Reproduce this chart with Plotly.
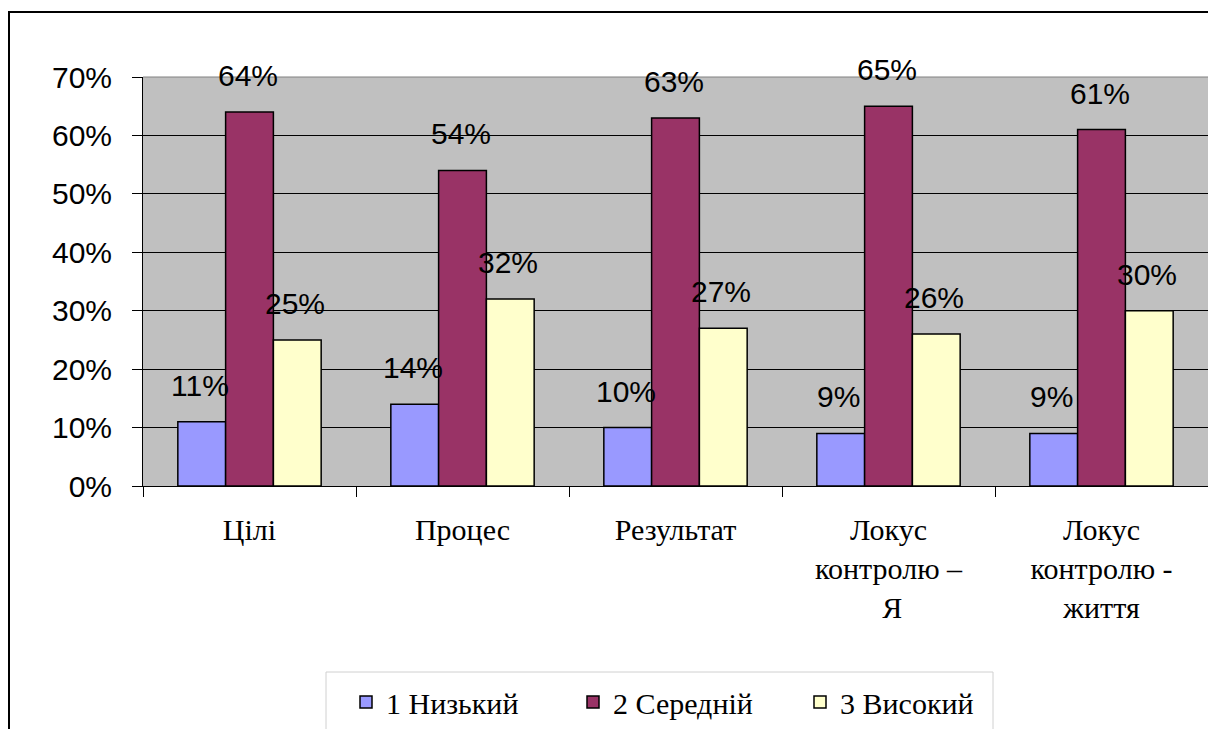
import plotly.graph_objects as go

categories = ["Цілі", "Процес", "Результат", "Локус<br>контролю –<br> Я", "Локус<br>контролю -<br>життя"]
series_names = ["1 Низький", "2 Середній", "3 Високий"]
low = [11, 14, 10, 9, 9]
mid = [64, 54, 63, 65, 61]
high = [25, 32, 27, 26, 30]
colors = ["#9999FF", "#993366", "#FFFFCC"]
y_ticks = [0, 10, 20, 30, 40, 50, 60, 70]

W, H = 1208, 729
ML, MR, MT, MB = 143, 0, 77, 243
pw, ph = W - ML - MR, H - MT - MB

fig = go.Figure()
series = [low, mid, high]
for name, vals, col in zip(series_names, series, colors):
    fig.add_trace(go.Bar(
        x=categories, y=[v / 100 for v in vals], name=name,
        marker=dict(color=col, line=dict(color="black", width=1.5)),
    ))

# data labels
ngroups = len(series)
bar_px = pw / len(categories) * (1 - 0.327) / ngroups
for i, vals in enumerate(series):
    off = (i - (ngroups - 1) / 2) * bar_px
    for c, v in zip(categories, vals):
        fig.add_annotation(x=c, y=v / 100, text=f"{v}%", showarrow=False,
                           xshift=off - 2, yshift=18, yanchor="bottom",
                           font=dict(family="Liberation Sans, Arial", size=30, color="black"))

def px2x(px):
    return (px - ML) / pw

def px2y(py):
    return (H - MB - py) / ph

shapes = [
    # grey top border of plot area
    dict(type="line", xref="paper", yref="paper", x0=0, x1=1, y0=1, y1=1,
         line=dict(color="#808080", width=1)),
    # legend box
    dict(type="rect", xref="paper", yref="paper", x0=px2x(326), x1=px2x(993),
         y0=px2y(780), y1=px2y(672), line=dict(color="#D0D0D0", width=1),
         fillcolor="white", layer="below"),
    # outer chart frame
    dict(type="rect", xref="paper", yref="paper", x0=px2x(9), x1=px2x(1300),
         y0=px2y(820), y1=px2y(12), line=dict(color="black", width=2), layer="above"),
]

fig.update_layout(
    width=W, height=H,
    margin=dict(l=ML, r=MR, t=MT, b=MB, pad=0),
    paper_bgcolor="white", plot_bgcolor="#C0C0C0",
    barmode="group", bargap=0.327, bargroupgap=0,
    shapes=shapes,
    showlegend=True,
    legend=dict(orientation="h", x=px2x(346), y=px2y(676), xanchor="left", yanchor="top",
                borderwidth=0, bgcolor="rgba(0,0,0,0)",
                font=dict(family="Liberation Serif", size=30, color="black"),
                entrywidth=182, traceorder="normal"),
    xaxis=dict(showline=True, linecolor="black", linewidth=1, ticks="outside", ticklen=10,
               tickcolor="black", tickson="boundaries", showgrid=False,
               tickfont=dict(family="Liberation Serif", size=30, color="black"),
               ticklabelstandoff=17),
    yaxis=dict(range=[0, 0.7], tickvals=[t / 100 for t in y_ticks],
               ticktext=[f"{t}%" for t in y_ticks],
               showline=True, linecolor="black", linewidth=1, ticks="outside", ticklen=10,
               tickcolor="black", showgrid=True, gridcolor="black", gridwidth=1, zeroline=False,
               tickfont=dict(family="Liberation Sans, Arial", size=30, color="black"),
               ticklabelstandoff=14),
)

fig.write_html("out.html", config={"displayModeBar": False},
               post_script="document.body.style.margin='0';document.body.style.overflow='hidden';")
